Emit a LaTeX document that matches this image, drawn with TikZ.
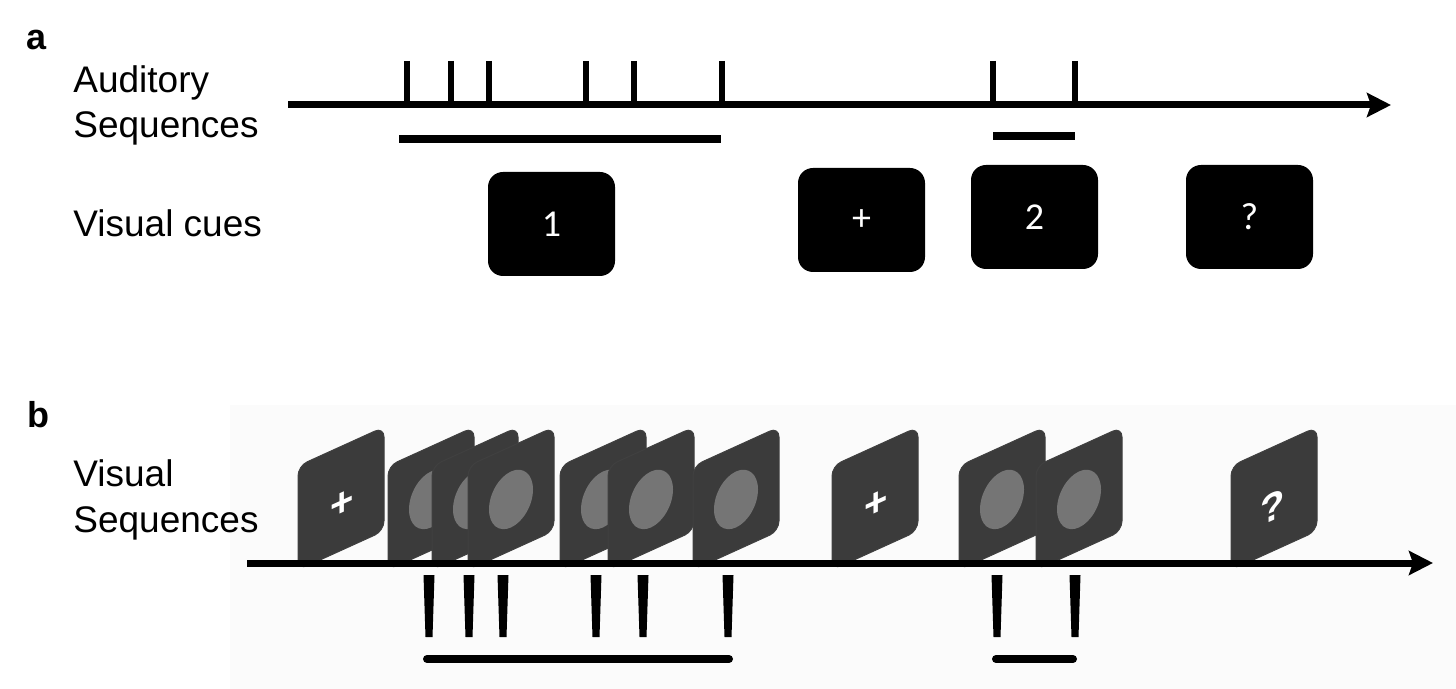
\documentclass[tikz,border=0pt]{standalone}
\usepackage{fontspec}
\setmainfont{Liberation Sans}
\newfontfamily\cuefont{Carlito}
\usetikzlibrary{arrows.meta}
\definecolor{cardgray}{HTML}{3B3B3B}
\definecolor{dotgray}{HTML}{757575}

\begin{document}
\begin{tikzpicture}[x=0.5pt, y=-0.5pt,
    lbl/.style={anchor=base west, inner sep=0pt, font=\fontsize{18.5}{22}\selectfont},
    panel/.style={anchor=base west, inner sep=0pt, font=\fontsize{18}{22}\selectfont\bfseries},
    axis/.style={line width=3.5pt, -{Stealth[length=12pt, width=12pt, inset=2pt]}},
    tick/.style={line width=3pt},
    bar/.style={line width=4pt},
    cue/.style={fill=black, rounded corners=7.5pt, minimum width=63.5pt, minimum height=52pt,
        text=white, font=\cuefont\fontsize{19}{22}\selectfont},
    card/.style={fill=cardgray, draw=black!75, line width=0.5pt, rounded corners=5pt},
    cardtext/.style={text=white, inner sep=0pt, transform shape, font=\fontsize{20}{22}\selectfont\bfseries}]
\useasboundingbox (0,0) rectangle (1456,689);

% panel a
\node[panel] (la) at (26,50) {a};
\node[lbl] (aud) at (73,93) {Auditory};
\node[lbl] (aseq) at (73,138) {Sequences};
\node[lbl] (vcue) at (73,237) {Visual cues};

\coordinate (ta0) at (288,105);
\coordinate (ta1) at (1391,105);
\foreach \x in {407,451,489,586,634,722,993,1075}
    \draw[tick] (\x,61) -- (\x,105);
\draw[axis] (ta0) -- (ta1);
\draw[bar] (399,139) -- (721,139);
\draw[bar] (993,136) -- (1075,136);

\node[cue] (cue1) at (551.5,224) {1};
\node[cue] (cue2) at (861.5,220) {+};
\node[cue] (cue3) at (1034.5,217) {2};
\node[cue] (cue4) at (1249.5,217) {?};

% panel b
\fill[black!1.5] (230,405) rectangle (1456,689);
\node[panel] (lb) at (27,428) {b};
\node[lbl] (vis) at (73,487) {Visual};
\node[lbl] (vseq) at (73,532) {Sequences};

% cards: 0 = fixation, 1 = disc, 2 = question
\foreach \x/\k in {298/0,388/1,432/1,468/1,560/1,608/1,693/1,832/0,959/1,1036/1,1231/2} {
    \begin{scope}[shift={(\x,570)}, yslant=0.4545]
        \draw[card] (0,0) rectangle (86,-104);
        \ifcase\k
            \node[cardtext] (mark\x) at (44,-46) {+};
        \or
            \fill[dotgray] (43,-51) ellipse (22 and 28);
        \or
            \node[cardtext] (mark\x) at (42,-44) {?};
        \fi
    \end{scope}
}

\coordinate (tb0) at (247,563);
\coordinate (tb1) at (1433,563);
\draw[axis] (tb0) -- (tb1);
\foreach \x in {429,469,503,596,643,728,997,1075}
    \fill ({\x-5.5},575) -- ({\x+5.5},575) -- ({\x+3.5},637) -- ({\x-3.5},637) -- cycle;
\draw[bar, line cap=round] (427,659) -- (729,659);
\draw[bar, line cap=round] (996,659) -- (1073,659);
\end{tikzpicture}
\end{document}
